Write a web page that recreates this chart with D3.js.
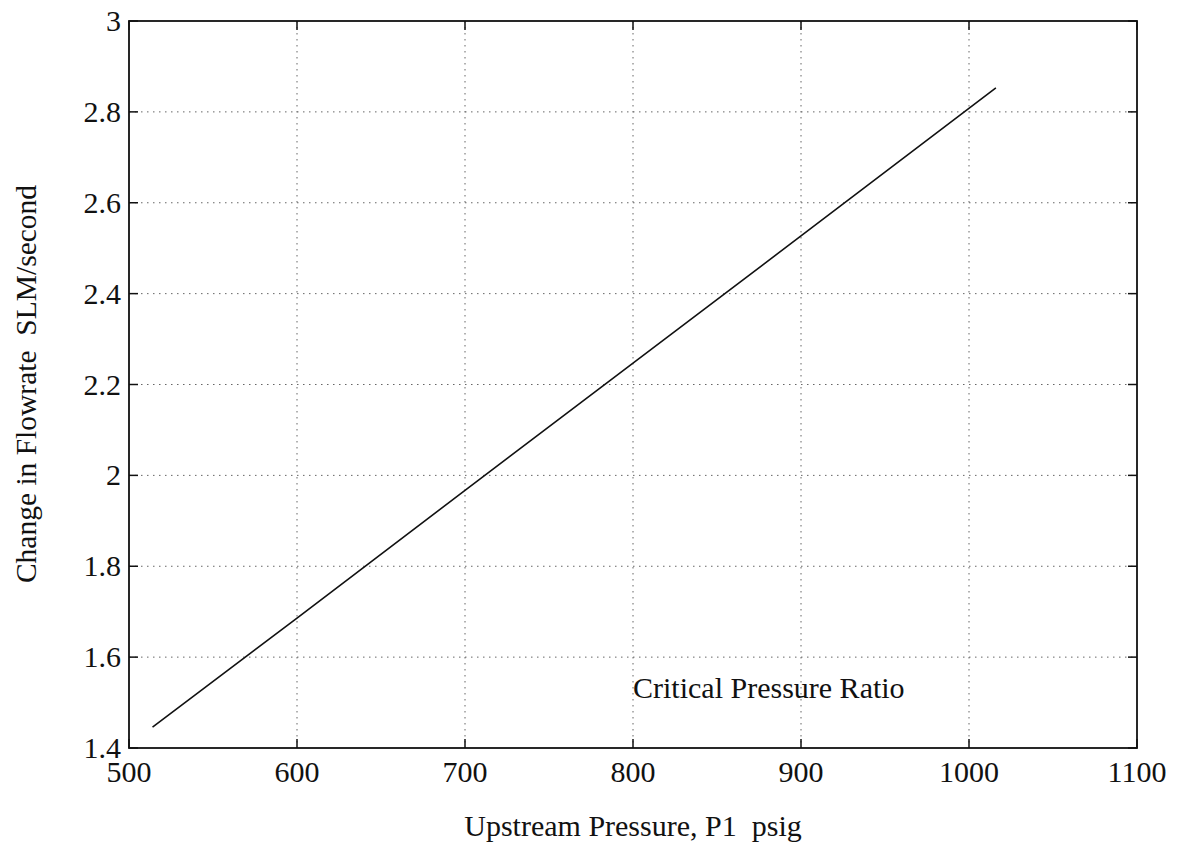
<!DOCTYPE html>
<html><head><meta charset="utf-8">
<script src="https://cdn.jsdelivr.net/npm/d3@7"></script>
<style>body{margin:0;background:#fff}svg{display:block}text{white-space:pre}</style>
</head><body>
<script>
const pressure = [514, 600, 700, 800, 900, 1016];
const flowChange = [1.446, 1.686, 1.967, 2.247, 2.527, 2.853];
const xTicks = [500, 600, 700, 800, 900, 1000, 1100];
const yTicks = [1.4, 1.6, 1.8, 2, 2.2, 2.4, 2.6, 2.8, 3];
const annotation = {text: "Critical Pressure Ratio", x: 800, y: 1.51};
const xTitle = "Upstream Pressure, P1  psig";
const yTitle = "Change in Flowrate  SLM/second";

const W = 1178, H = 850;
const m = {left: 129, right: 1137, top: 21, bottom: 748};
const font = "'Liberation Serif','Times New Roman',serif";
const fs = 30;

const svg = d3.select("body").append("svg").attr("width", W).attr("height", H);
const x = d3.scaleLinear().domain([500, 1100]).range([m.left, m.right]);
const y = d3.scaleLinear().domain([1.4, 3]).range([m.bottom, m.top]);

// grid
const g = svg.append("g");
g.selectAll(".vg").data(xTicks.slice(1, -1)).join("line")
  .attr("x1", d => x(d)).attr("x2", d => x(d)).attr("y1", m.top).attr("y2", m.bottom)
  .attr("stroke", "#666").attr("stroke-width", 1).attr("stroke-dasharray", "1.5,4.5");
g.selectAll(".hg").data(yTicks.slice(1, -1)).join("line")
  .attr("y1", d => y(d)).attr("y2", d => y(d)).attr("x1", m.left).attr("x2", m.right)
  .attr("stroke", "#666").attr("stroke-width", 1).attr("stroke-dasharray", "1.5,4.5");

// ticks inward on all sides
const tl = 9;
xTicks.forEach(t => {
  g.append("line").attr("x1", x(t)).attr("x2", x(t)).attr("y1", m.bottom).attr("y2", m.bottom - tl).attr("stroke", "#111").attr("stroke-width", 1.5);
  g.append("line").attr("x1", x(t)).attr("x2", x(t)).attr("y1", m.top).attr("y2", m.top + tl).attr("stroke", "#111").attr("stroke-width", 1.5);
});
yTicks.forEach(t => {
  g.append("line").attr("y1", y(t)).attr("y2", y(t)).attr("x1", m.left).attr("x2", m.left + tl).attr("stroke", "#111").attr("stroke-width", 1.5);
  g.append("line").attr("y1", y(t)).attr("y2", y(t)).attr("x1", m.right).attr("x2", m.right - tl).attr("stroke", "#111").attr("stroke-width", 1.5);
});

// frame
svg.append("rect").attr("x", m.left).attr("y", m.top).attr("width", m.right - m.left).attr("height", m.bottom - m.top)
  .attr("fill", "none").attr("stroke", "#111").attr("stroke-width", 1.8);

// tick labels
svg.selectAll(".xl").data(xTicks).join("text")
  .attr("x", d => x(d)).attr("y", m.bottom + 34).attr("text-anchor", "middle")
  .attr("font-family", font).attr("font-size", fs).attr("fill", "#111").text(d => d);
svg.selectAll(".yl").data(yTicks).join("text")
  .attr("x", m.left - 8).attr("y", d => y(d) + 10).attr("text-anchor", "end")
  .attr("font-family", font).attr("font-size", fs).attr("fill", "#111").text(d => d);

// line
const line = d3.line().x((d, i) => x(pressure[i])).y(d => y(d));
svg.append("path").datum(flowChange).attr("d", line).attr("fill", "none").attr("stroke", "#111").attr("stroke-width", 1.6);

// annotation
svg.append("text").attr("x", x(annotation.x)).attr("y", y(annotation.y))
  .attr("font-family", font).attr("font-size", fs).attr("fill", "#111").text(annotation.text);

// axis titles
svg.append("text").attr("x", (m.left + m.right) / 2).attr("y", 836).attr("text-anchor", "middle")
  .attr("font-family", font).attr("font-size", fs).attr("fill", "#111").text(xTitle);
svg.append("text").attr("transform", `translate(36,384) rotate(-90)`).attr("text-anchor", "middle")
  .attr("font-family", font).attr("font-size", 29.5).attr("fill", "#111").text(yTitle);
</script>
</body></html>
